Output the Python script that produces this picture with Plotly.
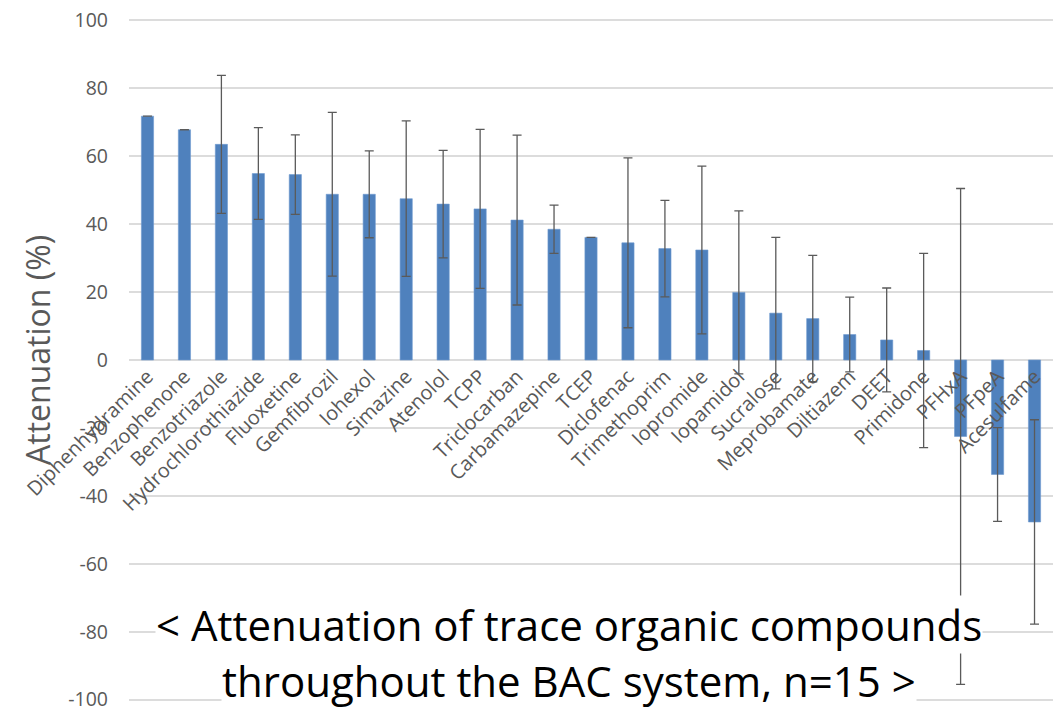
import plotly.graph_objects as go

# Trace organic compounds, mean attenuation and standard deviation (%)
compounds = [
    "Diphenhydramine", "Benzophenone", "Benzotriazole", "Hydrochlorothiazide",
    "Fluoxetine", "Gemfibrozil", "Iohexol", "Simazine", "Atenolol", "TCPP",
    "Triclocarban", "Carbamazepine", "TCEP", "Diclofenac", "Trimethoprim",
    "Iopromide", "Iopamidol", "Sucralose", "Meprobamate", "Diltiazem", "DEET",
    "Primidone", "PFHxA", "PFpeA", "Acesulfame",
]
attenuation = [
    71.8, 67.8, 63.5, 54.9, 54.6, 48.8, 48.8, 47.5, 45.9, 44.5,
    41.2, 38.5, 36.1, 34.5, 32.8, 32.4, 19.9, 13.8, 12.2, 7.5,
    5.9, 2.8, -22.5, -33.7, -47.7,
]
std_dev = [
    0.0, 0.0, 20.3, 13.5, 11.7, 24.1, 12.8, 22.9, 15.8, 23.4,
    25.0, 7.1, 0.0, 25.0, 14.2, 24.7, 24.0, 22.3, 18.6, 11.0,
    15.3, 28.6, 73.0, 13.8, 30.1,
]
y_ticks = [-100, -80, -60, -40, -20, 0, 20, 40, 60, 80, 100]
y_tick_labels = ["-100", "-80", "-60", "-40", "-20", "0", "20", "40", "60", "80", "100"]

caption_lines = [
    "< Attenuation of trace organic compounds",
    "throughout the BAC system, n=15 >",
]

GREY = "#595959"
FONT = "Open Sans"

fig = go.Figure()
fig.add_trace(go.Bar(
    x=compounds,
    y=attenuation,
    width=0.33,
    marker=dict(color="#4F81BD", line=dict(color="#6f9bd0", width=0.6)),
    error_y=dict(type="data", array=std_dev, visible=True,
                 color="#5a5a5a", thickness=1.3, width=4.5),
    showlegend=False,
))

# Value range padded slightly so the ±100 grid lines are kept
fig.update_layout(
    width=1063, height=710,
    margin=dict(l=129, r=10, t=16.6, b=6.6),
    paper_bgcolor="white", plot_bgcolor="white",
    font=dict(family=FONT, color=GREY),
    xaxis=dict(
        type="category", range=[-0.5, len(compounds) - 0.5],
        anchor="free", position=101 / 202, automargin=False,
        tickangle=-45, tickfont=dict(size=20, color=GREY, family=FONT),
        showgrid=False, showline=False, ticks="", zeroline=False,
    ),
    yaxis=dict(
        range=[-101, 101], tickvals=y_ticks, ticktext=y_tick_labels,
        automargin=False,
        tickfont=dict(size=19.5, color=GREY, family=FONT),
        gridcolor="#dcdcdc", gridwidth=1.5,
        zeroline=False, showline=False, ticks="",
        ticklabelstandoff=20, ticklabeloverflow="allow",
    ),
    bargap=0.67,
)

# Vertical axis title
fig.add_annotation(
    text="Attenuation (%)", textangle=-90,
    xref="paper", yref="paper", x=-0.0993, y=0.515,
    xanchor="center", yanchor="middle", showarrow=False,
    font=dict(size=32, color=GREY, family=FONT),
)

# Caption lines at the bottom of the chart
for text, ypos in zip(caption_lines, [0.115, 0.0326]):
    fig.add_annotation(
        text=text, xref="paper", yref="paper", x=0.476, y=ypos,
        xanchor="center", yanchor="middle", showarrow=False,
        bgcolor="white", borderpad=0,
        font=dict(size=42, color="black", family=FONT),
    )

fig.write_html("out.html")
